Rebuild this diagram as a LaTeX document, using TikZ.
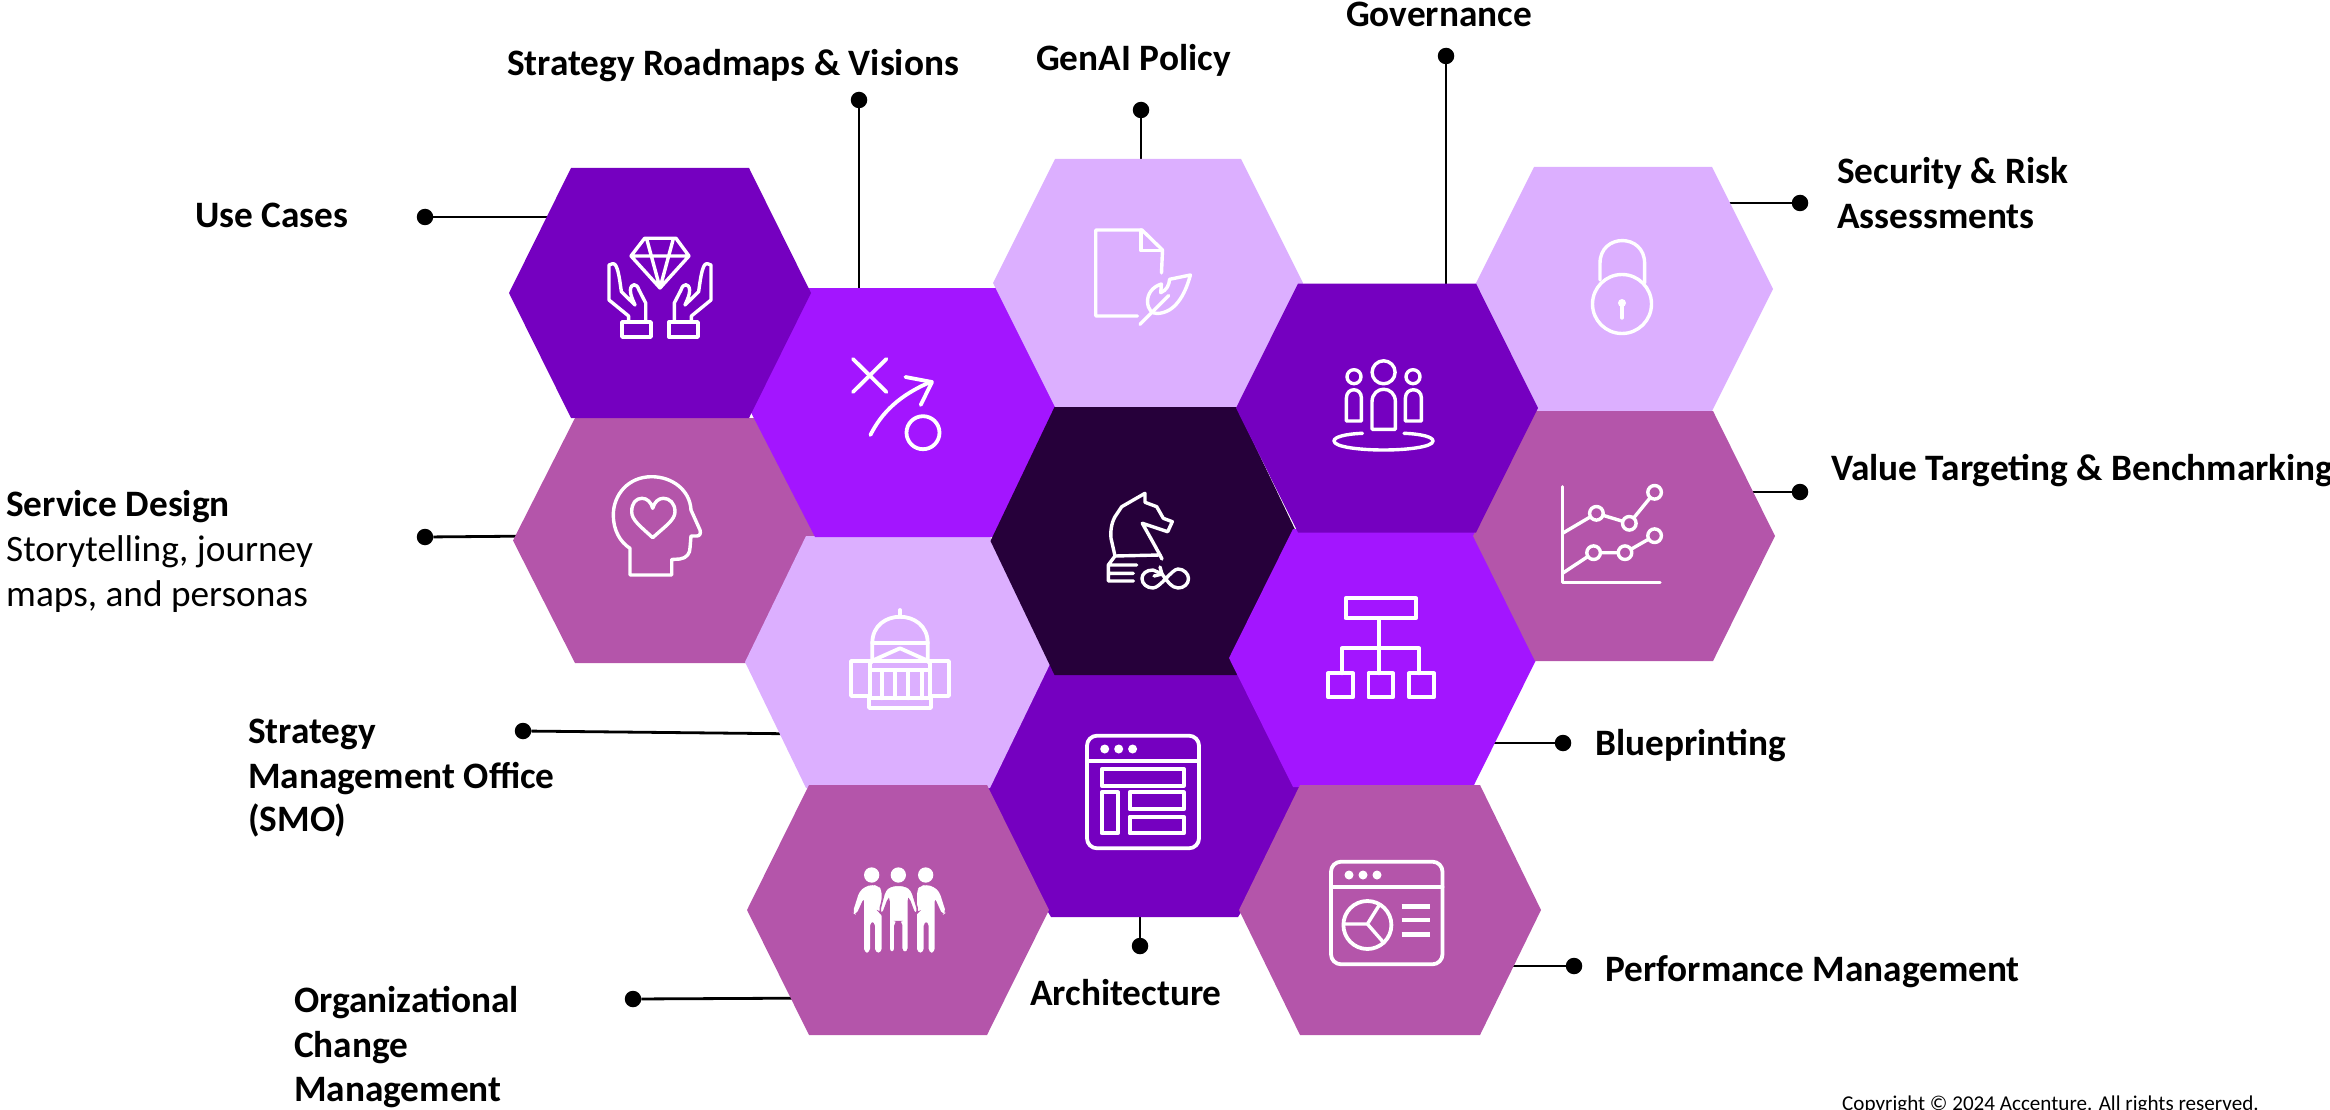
\documentclass[tikz,border=0pt]{standalone}
\usepackage{fontspec}
\setmainfont{Carlito}
\definecolor{cDeep}{HTML}{7500C0}
\definecolor{cVivid}{HTML}{A315FF}
\definecolor{cLight}{HTML}{DCAFFF}
\definecolor{cMauve}{HTML}{B455AA}
\definecolor{cDark}{HTML}{26003A}
\newcommand{\hexa}[7]{%
  \fill[#7] ({#2-#4},#3) -- ({#2-#5},{#3-#6}) -- ({#2+#5},{#3-#6}) -- ({#2+#4},#3) -- ({#2+#5},{#3+#6}) -- ({#2-#5},{#3+#6}) -- cycle;
  \coordinate (#1) at (#2,#3);}
\tikzset{
  x=1pt,y=-1pt,
  lab/.style={font=\fontsize{37.3}{45}\selectfont\bfseries,inner sep=0pt,align=left,anchor=base west},
  labreg/.style={font=\fontsize{37.3}{45}\selectfont,inner sep=0pt,align=left,anchor=base west},
  dotnode/.style={circle,fill=black,inner sep=0pt,minimum size=16.5pt},
  conn/.style={draw=black,line width=2.8pt},
  icon/.style={draw=white,line width=3.8pt,line cap=round,line join=round},
  iconw/.style={icon,line width=3.4pt},
}
\begin{document}
\begin{tikzpicture}
\useasboundingbox (0,0) rectangle (2330,1110);
% connector ends
\node[dotnode] (dUse) at (425,217) {};
\node[dotnode] (dSrv) at (425,537) {};
\node[dotnode] (dRoad) at (859,100) {};
\node[dotnode] (dGen) at (1141,110) {};
\node[dotnode] (dGov) at (1446,56) {};
\node[dotnode] (dSec) at (1800,203) {};
\node[dotnode] (dVal) at (1800,492) {};
\node[dotnode] (dBlu) at (1563,743) {};
\node[dotnode] (dPer) at (1574,966) {};
\node[dotnode] (dArc) at (1140,946) {};
\node[dotnode] (dOrg) at (633,999) {};
\node[dotnode] (dSmo) at (523,731) {};
\coordinate (eUse) at (570,217);
\coordinate (eSrv) at (540,536);
\coordinate (eRoad) at (859,310);
\coordinate (eGen) at (1141,180);
\coordinate (eGov) at (1446,300);
\coordinate (eSec) at (1700,203);
\coordinate (eVal) at (1730,492);
\coordinate (eBlu) at (1470,743);
\coordinate (ePer) at (1490,966);
\coordinate (eArc) at (1140,900);
\coordinate (eOrg) at (830,998);
\coordinate (eSmo) at (810,734);
\foreach \a/\b in {dUse/eUse,dSrv/eSrv,dRoad/eRoad,dGen/eGen,dGov/eGov,dSec/eSec,dVal/eVal,dBlu/eBlu,dPer/ePer,dArc/eArc,dOrg/eOrg,dSmo/eSmo}
  \draw[conn] (\a) -- (\b);
% hexagons
\fill[cMauve] (513,540.5) -- (575,418) -- (780,418) -- (840,540.5) -- (780,663) -- (575,663) -- cycle;
\coordinate (hHead) at (664,540.5);
\fill[cDeep] (975,790) -- (1040,663) -- (1250,663) -- (1320,790) -- (1238,917) -- (1051,917) -- cycle;
\coordinate (hArc) at (1144,790);
\hexa{hDome}{898}{662}{153}{92}{126}{cLight}
\fill[cVivid] (751,412.5) -- (805,288) -- (1040,288) -- (1100,412.5) -- (1040,537) -- (815,537) -- cycle;
\coordinate (hRoad) at (902,412.5);
\hexa{hUse}{660}{293}{151}{89}{125}{cDeep}
\hexa{hGen}{1148}{283}{155}{93}{124}{cLight}
\hexa{hDark}{1145.5}{541}{155}{91}{134}{cDark}
\hexa{hBlue}{1383}{658}{154}{90}{129}{cVivid}
\hexa{hSec}{1623}{289}{150}{89}{122}{cLight}
\hexa{hVal}{1624}{536}{151}{89}{125}{cMauve}
\hexa{hGov}{1387}{408}{151}{89}{124.5}{cDeep}
\hexa{hChg}{898}{910}{151}{89}{125}{cMauve}
\hexa{hPer}{1390}{910}{151}{90}{125}{cMauve}
% icon: hands and diamond
\draw[iconw] (644.6,238.3) -- (676,238.3) -- (689,256) -- (660,288) -- (631,256) -- cycle (631,256) -- (689,256) (647,240) -- (660,288) -- (673,240);
\foreach \sc/\sh in {1/0,-1/1320}{
\begin{scope}[shift={(\sh,0)},xscale=\sc]
\draw[iconw] (622,322) rectangle (651,337);
\draw[iconw] (628.6,322) -- (628.6,316) -- (609,300) -- (609,265) .. controls (611,263) and (615,263) .. (616,266) .. controls (619,272) and (620,283) .. (621.4,291.7) -- (635,305) .. controls (632,298) and (630.4,295) .. (630.4,290) .. controls (631,283) and (637,283) .. (639,290) -- (645.7,303) -- (645.7,322);
\end{scope}}
% icon: play
\draw[icon] (853,359) -- (886.4,392) (886.4,359) -- (853,392);
\draw[icon] (870.4,435) .. controls (882,412) and (900,395) .. (930.4,382);
\draw[icon] (905.4,377) -- (932,382) -- (920.7,405);
\draw[icon] (923,432.7) circle (16.5);
% icon: document and feather
\draw[iconw] (1161.5,273) -- (1162.5,250) -- (1142,230) -- (1095.7,230) -- (1095.7,316) -- (1137.5,316);
\draw[iconw] (1141,230) -- (1141,250.7) -- (1162.5,250.7);
\draw[iconw] (1140,324.3) -- (1168.6,295.7);
\draw[iconw] (1190.4,275) -- (1169.6,279.3) .. controls (1169,285) and (1167,290) .. (1160.7,292.7) -- (1161.4,284) .. controls (1152,287) and (1147.5,294) .. (1147.5,301.7) .. controls (1148,310) and (1152,313.5) .. (1157,313.5) .. controls (1175,313) and (1185,295) .. (1190.4,275) -- cycle;
% icon: governance people
\draw[iconw] (1383.6,372.3) circle (11.5) (1354,376.7) circle (7) (1413,376.7) circle (7);
\draw[iconw] (1372,429.3) -- (1372,402) .. controls (1372,385) and (1395.4,385) .. (1395.4,402) -- (1395.4,429.3) -- cycle;
\draw[iconw] (1346.4,421) -- (1346.4,398) .. controls (1346.4,387) and (1361.4,387) .. (1361.4,398) -- (1361.4,421) -- cycle;
\draw[iconw] (1405.4,421) -- (1405.4,398) .. controls (1405.4,387) and (1421.4,387) .. (1421.4,398) -- (1421.4,421) -- cycle;
\draw[iconw] (1362.5,433.3) .. controls (1345,434) and (1334,437) .. (1334,441) .. controls (1334,447) and (1360,450) .. (1383.6,450) .. controls (1407,450) and (1433,447) .. (1433,441) .. controls (1433,437) and (1422,434) .. (1404,433.3);
% icon: lock
\draw[iconw] (1622,304) circle (29.5);
\draw[iconw] (1600,280) -- (1600,263.3) .. controls (1600,233) and (1644.6,233) .. (1644.6,263.3) -- (1644.6,283);
\fill[white] (1622,303) circle (4);
\draw[iconw] (1622,303) -- (1622,318);
% icon: chart
\draw[iconw] (1562.5,486.7) -- (1562.5,582.3) -- (1660,582.3);
\draw[iconw] (1562.5,533.3) -- (1596.4,513.3) -- (1629.3,523.3) -- (1654.6,492.3);
\draw[iconw] (1562.5,573.3) -- (1593.6,552.7) -- (1625,552.7) -- (1654.6,535.7);
\foreach \p in {(1596.4,513.3),(1629.3,523.3),(1654.6,492.3),(1593.6,552.7),(1625,552.7),(1654.6,535.7)}
  \draw[iconw,fill=cMauve] \p circle (6.8);
% icon: org chart
\draw[icon] (1345.7,598.3) rectangle (1416,618.3);
\draw[icon] (1379,618.3) -- (1379,673.3) (1342,673.3) -- (1342,648.3) -- (1419,648.3) -- (1419,673.3);
\draw[icon] (1328,673.3) rectangle (1353,697.3) (1368.5,673.3) rectangle (1393,697.3) (1409,673.3) rectangle (1434,697.3);
% icon: capitol
\draw[icon] (900,610) -- (900,617);
\draw[icon] (872.3,662) -- (872.3,643) .. controls (872.3,608) and (927.7,608) .. (927.7,643) -- (927.7,662);
\draw[icon] (872.3,643) -- (927.7,643);
\draw[icon] (870,661.7) -- (900,648.3) -- (930,661.7);
\draw[icon] (870,661) rectangle (930,698.3);
\draw[icon] (870,670) -- (930,670);
\foreach \cx in {881.7,895,908.3,921.7} \draw[icon] (\cx,670) -- (\cx,698.3);
\draw[icon] (869,698.3) rectangle (931,708);
\draw[icon] (851,661) rectangle (870,696) (930,661) rectangle (949,696);
% icon: architecture window
\draw[icon,rounded corners=10pt] (1087,735.7) rectangle (1199,848.3);
\draw[icon] (1087,760.7) -- (1199,760.7);
\foreach \cx in {1104.7,1118.7,1132.6} \fill[white] (\cx,749) circle (4.5);
\draw[icon] (1101.7,769) rectangle (1183.8,785.7) (1101.7,792.3) rectangle (1118,833.3) (1129.6,792.3) rectangle (1183.8,809.3) (1129.6,816.7) rectangle (1183.8,833.3);
% icon: performance window
\draw[icon,rounded corners=10pt] (1331,861.7) rectangle (1442.5,964.3);
\draw[icon] (1331,886.7) -- (1442.5,886.7);
\foreach \cx in {1349,1363,1377} \fill[white] (\cx,875) circle (4.5);
\draw[icon] (1367.4,925) circle (24);
\draw[iconw] (1344,924) -- (1367.4,924) -- (1379.3,905) (1367.4,924) -- (1384,943);
\draw[icon,line width=4.5pt,line cap=butt] (1401.7,906.7) -- (1430,906.7) (1401.7,920) -- (1430,920) (1401.7,934.3) -- (1430,934.3);
% icon: people
\begin{scope}[shift={(840,850)},scale=0.3333]
\foreach \cx in {95,175,257} \fill[white] (\cx,75) circle (23);
\fill[white,rounded corners=4pt] (97,104) -- (75,110) -- (58,125) -- (38,188) -- (48,195) -- (72,142) -- (72,308) -- (90,308) -- (90,215) -- (105,215) -- (105,308) -- (125,308) -- (125,120) -- (115,108) -- cycle;
\fill[white,rounded corners=4pt] (259,104) -- (281,110) -- (298,125) -- (318,188) -- (308,195) -- (284,142) -- (284,308) -- (266,308) -- (266,215) -- (251,215) -- (251,308) -- (231,308) -- (231,120) -- (241,108) -- cycle;
\draw[white,fill=white,draw=cMauve,line width=1.6pt,rounded corners=4pt] (175,105) -- (150,108) -- (135,120) -- (118,185) -- (127,195) -- (147,142) -- (147,308) -- (165,308) -- (165,215) -- (185,215) -- (185,308) -- (205,308) -- (205,142) -- (225,195) -- (235,185) -- (215,120) -- (200,108) -- cycle;
\end{scope}
% icon: head with heart
\draw[iconw] (630,575) -- (671.7,575) -- (671.7,559.5) -- (680,559) .. controls (687,558) and (690,553) .. (690,548) -- (691,536) -- (697,536) .. controls (700,536) and (701,533) .. (700,530) -- (691,510) .. controls (690,490) and (672,476.7) .. (651.7,476.7) .. controls (628,476.7) and (613.3,495) .. (613.3,515) .. controls (613.3,530) and (620,542) .. (630,548.3) -- cycle;
\draw[iconw] (652.7,537.7) .. controls (640,526) and (631.7,520) .. (631.7,511.7) .. controls (631.7,503) and (636,498.3) .. (642,498.3) .. controls (647,498.3) and (651,502) .. (652.7,508.3) .. controls (654.4,502) and (658.4,498.3) .. (663.4,498.3) .. controls (669.4,498.3) and (675,503) .. (675,511.7) .. controls (675,520) and (665.4,526) .. (652.7,537.7) -- cycle;
% icon: knight with infinity
\draw[iconw] (1145,493.3) -- (1145,502.3) -- (1156.7,506.7) -- (1163.3,518.3) -- (1172.3,521.7) -- (1167.7,531.7) -- (1142.3,523.3) -- (1151.7,540) -- (1160,555) -- (1115,556) -- (1111,538.3) .. controls (1110,528) and (1113,520) .. (1115,516.7) -- (1121.7,506.7) -- cycle;
\draw[iconw] (1160,555) -- (1162,559);
\draw[iconw] (1115,556) -- (1108.3,565) -- (1108.3,581) -- (1133.3,581) (1108.3,565) -- (1136.7,565) (1108.3,573.3) -- (1133.3,573.3);
\draw[iconw] (1153,570) .. controls (1146,570) and (1142,574) .. (1142,578.5) .. controls (1142,584) and (1147,588) .. (1153,588) .. controls (1160,588) and (1172,569) .. (1178,569) .. controls (1184,569) and (1188.5,574) .. (1188.5,578.5) .. controls (1188.5,584) and (1184,588) .. (1178,588) .. controls (1172,588) and (1167,581) .. (1162,574) -- (1153,570);
\draw[iconw] (1160,567) -- (1162,574) -- (1154,576);
% labels
\node[lab] (tUse) at (195,228) {Use Cases};
\node[lab] (tRoad) at (507,76) {Strategy Roadmaps \& Visions};
\node[lab] (tGen) at (1036,71) {GenAI Policy};
\node[lab] (tGov) at (1346,27) {Governance};
\node[lab] (tSec) at (1837,184) {Security \& Risk};
\node[lab] (tSec2) at (1837,229) {Assessments};
\node[lab] (tVal) at (1831,480) {Value Targeting \& Benchmarking};
\node[lab] (tBlu) at (1595,755) {Blueprinting};
\node[lab] (tPer) at (1605,981) {Performance Management};
\node[lab] (tArc) at (1030,1005) {Architecture};
\node[lab] (tOrg) at (294,1012) {Organizational};
\node[lab] (tOrg2) at (294,1057) {Change};
\node[lab] (tOrg3) at (294,1101) {Management};
\node[lab] (tSmo) at (248,743) {Strategy};
\node[lab] (tSmo2) at (248,788) {Management Office};
\node[lab] (tSmo3) at (248,831) {(SMO)};
\node[lab] (tSrv) at (6,516) {Service Design};
\node[labreg] (tSrv2) at (6,561) {Storytelling, journey};
\node[labreg] (tSrv3) at (6,606) {maps, and personas};
\node[labreg,font=\fontsize{21.1}{24}\selectfont] (tCopy) at (1842,1110) {Copyright © 2024 Accenture. All rights reserved.};
\end{tikzpicture}
\end{document}
